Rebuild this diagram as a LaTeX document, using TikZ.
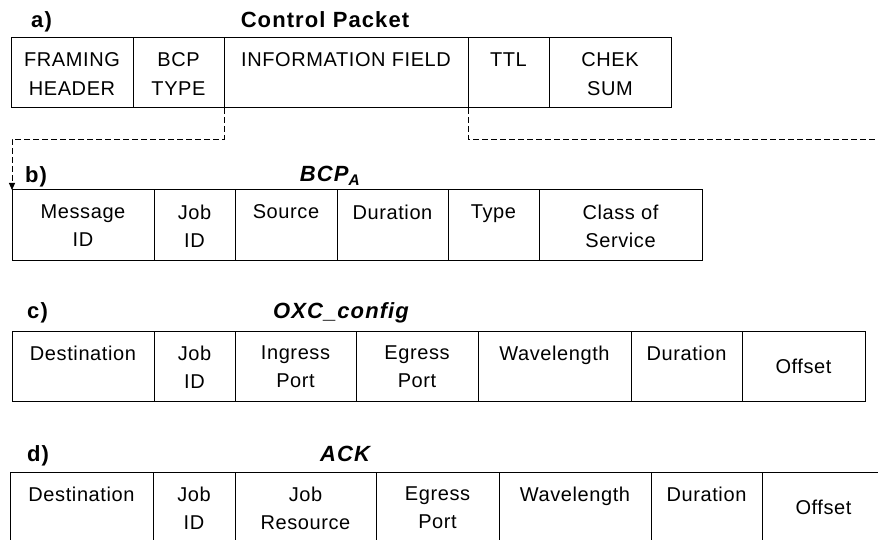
\documentclass[tikz,border=0pt]{standalone}
\usepackage{fontspec}
\setmainfont{Liberation Sans}
\newfontfamily\cellfamily[LetterSpace=3]{Liberation Sans}
\newfontfamily\headfamily[LetterSpace=5]{Liberation Sans}
\usepackage{tikz}
\usetikzlibrary{arrows.meta,positioning}

\newcommand{\cellfont}{\cellfamily\fontsize{20}{28.5}\selectfont}
\newcommand{\headfont}{\headfamily\bfseries\fontsize{22}{26}\selectfont}

\tikzset{
  cell/.style={draw, line width=1pt, minimum width=#1, minimum height=70pt,
    inner sep=0pt, outer sep=0pt, font=\cellfont},
  celltext/.style={anchor=north, align=center, inner sep=0pt, yshift=-14.5pt, font=\cellfont},
  txt/.style={label={[celltext]north:#1}},
  tag/.style={anchor=base west, inner sep=0pt, font=\headfont},
  title/.style={anchor=base, inner sep=0pt, font=\headfont},
  link/.style={line width=0.9pt, dash pattern=on 6pt off 3pt}
}

\begin{document}
\begin{tikzpicture}[x=1pt, y=-1pt, node distance=0pt]
  \clip (0,0) rectangle (878,540);

  % a) control packet
  \node[tag] (taga) at (31,28) {a)};
  \node[title] (tita) at (325,28) {Control Packet};
  \node[cell=122pt, anchor=north west, txt={FRAMING\\HEADER}] (a1) at (11,38) {};
  \node[cell=91pt, right=of a1, txt={BCP\\TYPE}] (a2) {};
  \node[cell=244pt, right=of a2, txt={INFORMATION FIELD}] (a3) {};
  \node[cell=81pt, right=of a3, txt={TTL}] (a4) {};
  \node[cell=122pt, right=of a4, txt={CHEK\\SUM}] (a5) {};

  % b) BCP_A
  \node[tag] (tagb) at (25,183) {b)};
  \node[title] (titb) at (330,182) {\itshape BCP\textsubscript{A}};
  \node[cell=142pt, anchor=north west, txt={Message\\ID}] (b1) at (12,190) {};
  \node[cell=81pt, right=of b1, txt={Job\\ID}] (b2) {};
  \node[cell=102pt, right=of b2, txt={Source}] (b3) {};
  \node[cell=111pt, right=of b3, txt={Duration}] (b4) {};
  \node[cell=91pt, right=of b4, txt={Type}] (b5) {};
  \node[cell=163pt, right=of b5, txt={Class of\\Service}] (b6) {};

  % c) OXC_config
  \node[tag] (tagc) at (27,318) {c)};
  \node[title] (titc) at (341,318) {\itshape OXC\_config};
  \node[cell=142pt, anchor=north west, txt={Destination}] (c1) at (12,331) {};
  \node[cell=81pt, right=of c1, txt={Job\\ID}] (c2) {};
  \node[cell=121pt, right=of c2, txt={Ingress\\Port}] (c3) {};
  \node[cell=122pt, right=of c3, txt={Egress\\Port}] (c4) {};
  \node[cell=153pt, right=of c4, txt={Wavelength}] (c5) {};
  \node[cell=111pt, right=of c5, txt={Duration}] (c6) {};
  \node[cell=123pt, right=of c6] (c7) {Offset};

  % d) ACK
  \node[tag] (tagd) at (27,461) {d)};
  \node[title] (titd) at (345,461) {\itshape ACK};
  \node[cell=143pt, anchor=north west, txt={Destination}] (d1) at (10,472) {};
  \node[cell=82pt, right=of d1, txt={Job\\ID}] (d2) {};
  \node[cell=141pt, right=of d2, txt={Job\\Resource}] (d3) {};
  \node[cell=123pt, right=of d3, txt={Egress\\Port}] (d4) {};
  \node[cell=152pt, right=of d4, txt={Wavelength}] (d5) {};
  \node[cell=111pt, right=of d5, txt={Duration}] (d6) {};
  \node[cell=123pt, right=of d6] (d7) {Offset};

  \coordinate (bendb) at (12,139);
  \coordinate (tail) at (878,139);
  \draw[link, -{Triangle[length=7pt,width=6pt]}] (a3.south west) |- (bendb) -- (b1.north west);
  \draw[link] (a4.south west) |- (tail);
\end{tikzpicture}
\end{document}
